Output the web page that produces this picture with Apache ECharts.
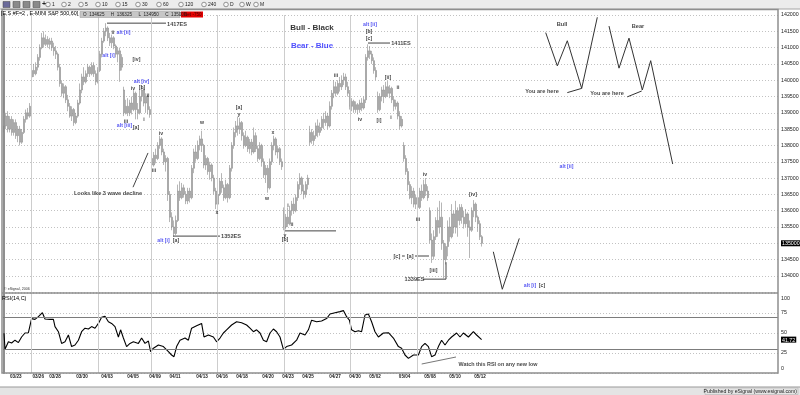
<!DOCTYPE html>
<html><head><meta charset="utf-8">
<script src="https://cdn.jsdelivr.net/npm/echarts@6/dist/echarts.min.js"></script>
<style>html,body{margin:0;padding:0;background:#fff}#c{width:800px;height:395px}</style>
</head><body><div id="c"></div>
<script>
// ---------- DATA ----------
// hourly bars: [open, close, low, high]
const bars = [
[1390,1386,1384,1397],[1386,1389,1385,1390],[1389,1385,1384,1390.5],[1385,1388,1384,1389],[1388,1384,1383,1389],
[1384,1387,1383,1388],[1387,1383,1382,1388],[1383,1385,1381,1386],[1385,1381,1380,1386],[1381,1384,1380.5,1385],
[1384,1388,1383.5,1389],[1388,1390,1387,1391],[1390,1389,1388,1391.5],[1389,1392,1388.5,1393],
[1401,1403,1399.5,1405],[1403,1402,1401,1405],[1402,1404,1401.5,1405.5],[1404,1407,1403,1408],[1407,1410,1406,1411],
[1410,1413,1409.5,1414.5],[1413,1411,1410,1415],[1411,1412.5,1410.5,1414],[1412.5,1411,1410,1413.5],[1411,1412,1409.5,1413],
[1412,1410,1409,1413],[1410,1409,1407.5,1411.5],[1409,1408,1406.5,1410.5],
[1408,1404,1403,1408.5],[1404,1399,1398,1405],[1399,1396,1395,1400],[1396,1398,1394.5,1399],[1398,1394,1393,1398.5],
[1394,1392,1390.5,1395.5],[1392,1389,1388.5,1393],[1389,1391,1387.5,1392],[1391,1387,1386,1391.5],[1387,1389,1386.5,1390],
[1389,1393,1388.5,1394],
[1393,1397,1392.5,1399],[1397,1401,1396,1402],[1401,1399.5,1398.5,1404],[1399.5,1402,1399,1403],[1402,1404,1401,1405],
[1404,1402,1401,1404.5],[1402,1404.5,1401.5,1405.5],[1404.5,1402,1401,1405.5],[1402,1399.5,1398.5,1403],[1399.5,1403,1399,1404],
[1403,1408,1402.5,1409],[1408,1412,1407,1413],[1412,1415,1411.5,1416],[1415,1416,1413.5,1417.5],
[1416,1413,1412,1416.5],[1413,1411.5,1410.5,1414.5],[1411.5,1413,1410,1414],[1413,1410.5,1409.5,1413.5],[1410.5,1408,1407,1411],
[1408,1409,1405.5,1410],[1409,1403,1399.5,1410],[1404,1407,1403,1408],
[1397,1390,1389,1398],[1390,1392,1389.5,1394],[1392,1390,1389,1394.5],[1390,1393,1389,1394],[1393,1391,1389.5,1395],
[1391,1396,1390.5,1397],[1396,1391,1388,1396.5],[1391,1390,1388,1393],[1390,1395,1389.5,1397],[1395,1397,1393.5,1398.5],
[1397,1393,1392,1397.5],[1393,1395,1390,1396],[1395,1391,1389.5,1395.5],[1391,1389.5,1388.5,1392],
[1376,1374,1373,1378.5],[1374,1377,1373.5,1378],[1377,1376,1374.5,1379],[1376,1380,1375.5,1381],[1380,1382,1379,1383],
[1382,1378,1377,1382.5],[1378,1375,1374,1379],[1375,1376,1372,1377],
[1376,1365,1363,1376.5],[1365,1358,1356.5,1366],[1358,1355,1354,1359.5],[1355,1353,1352,1357],[1353,1357,1352.5,1358.5],
[1357,1366,1356.5,1368],[1366,1364,1363,1369],[1364,1367,1363.5,1368.5],[1367,1365,1364,1368],[1365,1363,1362,1366],
[1363,1366,1362,1367],[1366,1364,1362.5,1367],[1364,1373,1363.5,1374],[1373,1378,1371.5,1379],[1378,1376,1375,1380],
[1376,1380,1375.5,1381.5],[1380,1382,1378.5,1383],[1382,1380,1378,1384.5],
[1380,1374,1373,1380.5],[1374,1376,1372.5,1377],[1376,1372,1371,1376.5],[1372,1374,1369.5,1375],[1374,1370,1369,1374.5],
[1370,1366,1365,1371],[1366,1362,1360.5,1367],[1362,1365,1360,1366],[1365,1369,1364.5,1370],[1369,1367,1365.5,1371.5],
[1367,1364,1363,1368],[1364,1368,1363.5,1369.5],[1368,1364,1362.5,1368.5],[1364,1373,1363.5,1374],
[1373,1380,1372,1381],[1380,1384,1379,1385.5],[1384,1386,1382.5,1387.5],[1386,1385,1383,1388.75],[1385,1387,1383.5,1388.5],
[1387,1383,1381.5,1387.5],
[1383,1380,1379,1384],[1380,1382.5,1379.5,1384.5],[1382.5,1379,1378,1383],[1379,1381,1377.5,1382],[1381,1378,1377,1382],
[1378,1383,1377.5,1385.5],[1383,1379,1378,1384],[1379,1376,1375,1380],[1376,1380,1375.5,1381],[1380,1375,1373.5,1380.5],
[1375,1371,1370,1376],[1371,1373,1368.5,1374],[1373,1367,1365.5,1374],
[1367,1375,1366.5,1376],[1375,1380,1374,1381],[1380,1382,1378.5,1383],[1382,1378,1377,1382.5],[1378,1379,1376,1380],
[1379,1375,1374,1379.5],[1375,1373.5,1372.5,1376],
[1360,1355,1354,1361],[1355,1358,1354.25,1359],[1358,1356,1355,1361],[1356,1360,1355.5,1361.5],[1360,1362,1358.5,1363],
[1362,1360,1359,1364],[1360,1364,1359.5,1365],[1364,1368,1363,1369],[1368,1370,1366.5,1371.5],[1370,1366,1365,1370.5],
[1366,1365,1363.5,1368],[1365,1368,1364,1369],[1368,1370,1366.5,1371],
[1381,1384,1380,1386],[1384,1381.5,1380.5,1385],[1381.5,1383,1380,1384.5],[1383,1386,1382,1387],[1386,1384,1382.5,1388],
[1384,1385.5,1383,1387],[1385.5,1388,1384.5,1389],[1388,1387,1385,1390],[1387,1389,1386,1390.5],[1389,1386,1385,1390],
[1386,1392,1385.5,1393.5],[1392,1396,1391,1397],[1396,1398,1394.5,1400],
[1398,1396,1395,1399.5],[1396,1399,1395.5,1400],[1399,1398,1396.5,1401],[1398,1400,1397,1401.5],[1400,1401,1398.5,1402.25],
[1401,1398,1397,1402],
[1398,1396,1395,1399.5],[1396,1392,1391,1397],[1392,1393.5,1390.5,1394.5],[1393.5,1391,1390,1394],[1391,1392.5,1390,1393.5],
[1392.5,1391,1389.5,1393],[1391,1393,1390,1394],[1393,1391.5,1390.5,1394.5],[1391.5,1394,1391,1395],
[1394,1407,1393,1408],[1407,1409,1406,1411],[1409,1408,1406.5,1410.5],[1408,1406,1405,1409],[1406,1403,1402,1407],
[1403,1401,1400,1404],
[1395,1391,1390,1396.5],[1391,1395,1390.5,1396],[1395,1397,1393.5,1398],[1397,1395,1393,1398.5],[1395,1398,1394.5,1399.5],
[1398,1396,1395,1399.75],[1396,1397.5,1394.5,1398.5],[1397.5,1394,1393,1398],[1394,1392,1390.5,1395],[1392,1393,1391,1394],
[1393,1389,1388,1393.5],[1389,1386,1385,1390.5],[1386,1388,1385.5,1389],
[1380,1376,1375,1381],[1376,1372,1371,1377],[1372,1368,1366,1373],[1368,1364,1363.5,1369],[1364,1366,1362,1367.5],
[1366,1362,1361,1367],[1362,1364,1360.5,1365],[1364,1361,1359.25,1365],
[1361,1366,1360.5,1367],[1366,1364,1363,1368],[1364,1368,1363.5,1369.5],[1368,1366,1364.5,1370],[1366,1364,1363,1367.5],
[1360,1351,1350,1361],[1351,1346,1344,1353],[1346,1352,1345,1354],[1352,1357,1351,1358],[1357,1355,1352,1361],
[1355,1358,1353,1363],[1358,1350,1348,1362.5],[1350,1345,1339.25,1351],[1345,1349,1343.5,1350],[1349,1355,1346,1357],
[1355,1352,1350.5,1358],[1352,1359,1351.5,1362],[1359,1355,1353,1360],[1355,1360,1353,1363],[1360,1357,1352,1361],
[1357,1361,1355.5,1362],[1361,1358,1356,1362],[1358,1356,1354.5,1360],[1356,1359,1355,1360.5],[1359,1355,1352,1359.5],
[1355,1354,1345.5,1357],[1354,1360,1353.5,1361],[1360,1362,1358,1363.25],[1362,1358,1356.5,1362.5],[1358,1356,1353.5,1358.5],
[1356,1352,1351,1357],[1352,1350,1349,1352.5]
];
// RSI(14,C): bar position, value
const rsiIdx = [0,0.5,2.2,3.8,5.5,7.2,8.8,10.5,12.2,13.8,15.5,17.2,19.2,20.5,23,24.7,25.5,27.2,28.8,30.5,32.2,33.8,35.5,37.2,38.8,40.5,42.2,43.8,45.5,47.2,48.8,50.5,52.2,53.8,55.5,57.2,58.3,59.7,61.3,63,64.7,67.2,68.8,70.5,72.2,73.3,74.7,77.2,79.7,82.2,83.8,85,86.3,88,90.5,92.2,93.8,96.3,98.8,100,102.2,104.7,106.3,108,109.7,111.3,113.8,116.3,118.8,121.3,123,124.7,126.3,128,129.7,131.3,133,134.7,136.3,138,139.7,141.3,143.8,146.3,148,150.5,152.2,153.8,156.3,158.8,161.3,163,165.5,168,169.7,171.3,172.7,173.8,175.5,177.2,178.8,180.5,182.2,183.8,185.5,187.2,189.7,192.2,194.7,197.2,198.8,200.5,202.2,204.7,207.2,208.8,210.5,212.2,213.8,215.5,217.2,218.8,220.5,222.2,223.8,226.3,228,229.7,232.2,234.7,236.3,238.8];
const rsiVal = [49.6,29.6,39,37.5,41,38,45,50,50.4,68,67,70.4,75.4,67.5,67,67,58,51.6,37,39,47.5,33,35,41,51.6,56,55,58,56,62,69.6,71,64,62,58,45,54,43.7,33,37,39,37,43.7,37,40,26.7,31,35,33,26.7,22.5,20.4,33,41,43.7,41,56,59,62,45,47.5,45,39,43.7,50,54,60,64,62.9,60,56,51.6,54,50,41,39,50,55,51.6,45,29.6,33,35,41,50,47.5,54,66,64,65,68,73.7,75.4,76.7,78,70.4,66,54,51.6,52.9,51.6,72.5,73.7,64,51.6,45,50,50.4,43.7,33,31,22.5,18.3,22.5,22.5,33,37,33,20.4,22.5,33,41,35,41,45,50,45,50,45,51.6,47.5,41.72];
// date labels on the time axis (bar position)
const dateText = ['03/23','03/26','03/28','03/30','04/03','04/05','04/09','04/11','04/13','04/16','04/18','04/20','04/23','04/25','04/27','04/30','05/02','05/04','05/08','05/10','05/12'];
const dateIdx  = [5.9,17.1,25.5,39,51.5,64.5,75.5,85.5,99,109,119,132,142,152,165.5,175.5,185.5,200.3,213,225.5,238];
// weekly separators (bar position)
const weekIdx = [13.5,47,73.5,106.5,140,173,206.5];
// RSI levels
const rsiTicks = [0,25,50,75,100];
const rsiBands = [70,30];
// toolbar interval buttons
const toolbarText = ['1','2','5','10','15','30','60','120','240','D','W','M'];
const toolbarX = [52,68,85,102,122,142,163,185,208,230,246,260];
// wave labels [text, barPos, price]
const waveBlack = [['ii',54.5,1414.6],['[iv]',66.25,1406.2],['[b]',69,1397.9],['iv',64.5,1397.3],['ii',72,1395.2],
 ['iii',61,1387.2],['[a]',66,1385.6],['i',70,1387.8],['iv',78.5,1383.5],['iii',75,1372.2],['[a]',86,1350.7],
 ['w',99,1386.9],['x',106.5,1359.3],['[a]',117.5,1391.5],['y',117.5,1389.6],['w',131.5,1363.6],['x',134.5,1384.1],
 ['[b]',182.5,1414.8],['[c]',182.5,1412.9],['iii',166,1401.3],['iv',178,1387.8],['[ii]',192,1400.7],['ii',197,1397.9],
 ['[i]',187.5,1387.5],['i',193.5,1388.7],['y',140.5,1352.5],['[b]',140.5,1351],['i',142,1361.7],['ii',144,1355.6],
 ['iv',210.5,1371.2],['iii',207,1357.4],['[iii]',214.75,1341.5],['[iv]',234.5,1364.8],['[c]',269,1336.9]];
const waveBlue = [['alt [ii]',59.75,1414.6],['alt [i]',52.25,1407.7],['alt [iv]',68.75,1399.5],['alt [iii]',60.25,1386],
 ['alt [i]',79.75,1350.7],['alt [ii]',183,1417.2],['alt [i]',263,1336.9],['alt [ii]',281.25,1373.4]];
const callouts = [['1417ES',86.5,1417.25],['1352ES',113.5,1352.2],['1411ES',198.5,1411.4],['1339ES',205.25,1339.0],
 ['[c] = [a]',199.75,1346.1],['Looks like 3 wave decline',52,1365.4],['Bull',279,1417.2],['Bear',317,1416.6],
 ['You are here',269,1396.7],['You are here',301.5,1395.8]];
const legendBull = ['Bull - Black',154,1416.2];
const legendBear = ['Bear - Blue',154,1410.5];
// guide lines [barPos, price]
const line1417 = [[51.5,1417.5],[81,1417.5]];
const line1352 = [[84.5,1352.2],[108,1352.2]];
const line1411 = [[182,1411.4],[193,1411.4]];
const line1354 = [[140.5,1353.8],[166,1353.8]];
const lineCA = [[205.5,1346.1],[212.5,1346.1]];
const line1339 = [[209.5,1339.0],[221,1339.0],[221,1344.2]];
const lineLooks = [[64.5,1367.2],[72,1377.7]];
// projections [barPos, price]
const vPath = [[244.65,1347.4],[249.15,1335.9],[257.65,1351.5]];
const bullPath = [[270.85,1414.6],[276.65,1404.4],[281.65,1412.1],[288.85,1397.5],[296.65,1419.3]];
const bullHere = [[281.65,1396.2],[288.85,1397.5]];
const bearPath = [[302.5,1416.6],[307.5,1403.7],[312.5,1412.9],[319.15,1397.0],[323.35,1406.0],[334.35,1374.3]];
const bearHere = [[311.65,1394.9],[318.85,1396.7]];
// RSI note
const rsiNote = ['Watch this RSI on any new low',247,10.6];
const rsiTrend = [[208.85,11.25],[226,20]];
// ---------- CHART ----------
const FONT = 'Arial, "Liberation Sans", sans-serif';
const lastClose = bars[bars.length-1][1];
const lastRsi = rsiVal[rsiVal.length-1];
const candleData = bars.map((b,i)=>[i,b[0],b[1],b[2],b[3]]);
const rsiData = rsiIdx.map((x,i)=>[x,rsiVal[i]]);
function textSeries(list,color,size,weight){
  return {type:'scatter',xAxisIndex:0,yAxisIndex:0,symbolSize:1,silent:true,z:6,
    itemStyle:{color:'rgba(0,0,0,0)'},
    data:list.map(d=>({name:d[0],value:[d[1],d[2]]})),
    label:{show:true,position:'inside',formatter:p=>p.name,color:color,fontSize:size,fontWeight:weight,fontFamily:FONT}};
}
function pathSeries(pts,color,width,g){
  return {type:'line',xAxisIndex:g||0,yAxisIndex:g||0,data:pts,symbol:'none',silent:true,clip:false,z:4,
    lineStyle:{color:color,width:width}};
}
const weekLines = {silent:true,symbol:'none',label:{show:false},animation:false,
  lineStyle:{color:'#cdcdcd',type:'solid',width:1},data:weekIdx.map(v=>({xAxis:v}))};
const toolbarGraphics = [];
[3,13,23,33].forEach((x,k)=>toolbarGraphics.push({type:'rect',shape:{x:x,y:1.5,width:7,height:6},
  style:{fill:k===0?'#6a6a9a':'#8a8a8a',stroke:'#444',lineWidth:0.5},z:2}));
toolbarGraphics.push({type:'text',x:42,y:1,style:{text:'+',fontSize:7,fontWeight:'bold',fontFamily:FONT,fill:'#222'},z:2});
toolbarText.forEach((t,k)=>{
  toolbarGraphics.push({type:'circle',shape:{cx:toolbarX[k]-4,cy:4.5,r:2.3},style:{fill:'#f6f6f6',stroke:'#555',lineWidth:0.6},z:2});
  toolbarGraphics.push({type:'text',x:toolbarX[k],y:2.2,style:{text:t,fontSize:5,fontFamily:FONT,fill:'#222'},z:2});
});
const chart = echarts.init(document.getElementById('c'));
chart.setOption({
  animation:false,
  backgroundColor:'#ffffff',
  grid:[{left:3,right:22,top:15,height:277.2,containLabel:false,outerBoundsMode:'none'},
        {left:3,right:22,top:293,height:80,containLabel:false,outerBoundsMode:'none'}],
  xAxis:[
    {gridIndex:0,type:'value',min:-0.5,max:387,axisLine:{show:false},axisTick:{show:false},axisLabel:{show:false},splitLine:{show:false}},
    {gridIndex:1,type:'value',min:-0.5,max:387,axisLine:{show:false},axisTick:{show:false},splitLine:{show:false},
     axisLabel:{customValues:dateIdx,formatter:v=>{const k=dateIdx.indexOf(v);return k>=0?dateText[k]:'';},
       fontSize:4.6,fontWeight:'bold',fontFamily:FONT,color:'#222',margin:1.5}}
  ],
  yAxis:[
    {gridIndex:0,type:'value',position:'right',min:1335,max:1420,interval:5,
     axisLine:{show:true,lineStyle:{color:'#8f8f8f',width:2}},axisTick:{show:false},
     axisLabel:{fontSize:5.3,fontFamily:FONT,color:'#222',margin:3,
       formatter:v=>{if(v===1335)return '';const s=String(Math.round(v*100));return v===lastClose?'{hl|'+s+'}':s;},
       rich:{hl:{backgroundColor:'#000',color:'#fff',fontSize:5.3,fontFamily:FONT,padding:[1,1,0,1]}}},
     splitLine:{show:true,lineStyle:{color:'#c2c2c2',type:[1,2],width:1}}},
    {gridIndex:1,type:'value',position:'right',min:0,max:100,interval:25,
     axisLine:{show:true,lineStyle:{color:'#8f8f8f',width:2}},axisTick:{show:false},
     axisLabel:{customValues:rsiTicks.concat([lastRsi]),fontSize:5.3,fontFamily:FONT,color:'#222',margin:3,
       formatter:v=>v===lastRsi?'{hl|'+v.toFixed(2)+'}':(v===100?'{top|100}':(v===0?'{bot|0}':String(v))),
       rich:{hl:{backgroundColor:'#000',color:'#fff',fontSize:5.3,fontFamily:FONT,padding:[1,1,0,1]},
             top:{fontSize:5.3,fontFamily:FONT,color:'#222',padding:[12,0,0,0]},
             bot:{fontSize:5.3,fontFamily:FONT,color:'#222',padding:[0,0,8,0]}}},
     splitLine:{show:true,lineStyle:{color:'#c2c2c2',type:[1,2],width:1}}}
  ],
  series:[
    {type:'candlestick',xAxisIndex:0,yAxisIndex:0,data:candleData,barWidth:1.8,z:3,
     itemStyle:{color:'#c4c4c4',color0:'#c4c4c4',borderColor:'#858585',borderColor0:'#858585',borderWidth:0.6},
     markLine:weekLines},
    pathSeries(line1417,'#444',1),pathSeries(line1352,'#444',1),pathSeries(line1411,'#444',1),
    pathSeries(line1354,'#444',1),pathSeries(lineCA,'#444',1),pathSeries(line1339,'#444',1),pathSeries(lineLooks,'#444',1),
    pathSeries(vPath,'#333',1),pathSeries(bullPath,'#333',1),pathSeries(bullHere,'#333',1),
    pathSeries(bearPath,'#333',1),pathSeries(bearHere,'#333',1),
    textSeries(waveBlack,'#111',5.2,'bold'),
    textSeries(waveBlue,'#2a2af0',5.2,'bold'),
    textSeries(callouts,'#111',5.6,'bold'),
    textSeries([legendBull],'#000',8,'bold'),
    textSeries([legendBear],'#1f1fff',8,'bold'),
    {type:'line',xAxisIndex:1,yAxisIndex:1,data:rsiData,symbol:'none',silent:true,z:3,
     lineStyle:{color:'#000',width:1.1},
     markLine:{silent:true,symbol:'none',label:{show:false},animation:false,
       lineStyle:{color:'#7c7c7c',type:'solid',width:1.2},data:rsiBands.map(v=>({yAxis:v})).concat(weekIdx.map(v=>({xAxis:v,lineStyle:{color:'#cdcdcd',width:1}})))}},
    pathSeries(rsiTrend,'#777',1,1),
    {type:'scatter',xAxisIndex:1,yAxisIndex:1,symbolSize:1,silent:true,itemStyle:{color:'rgba(0,0,0,0)'},
     data:[{name:rsiNote[0],value:[rsiNote[1],rsiNote[2]]}],
     label:{show:true,position:'inside',formatter:p=>p.name,color:'#111',fontSize:5.4,fontWeight:'bold',fontFamily:FONT}}
  ],
  graphic:[
    {type:'rect',shape:{x:0,y:0,width:800,height:9},style:{fill:'#ececec'},z:1},
    {type:'line',shape:{x1:0,y1:9,x2:800,y2:9},style:{stroke:'#a6a6a6',lineWidth:1},z:1}
  ].concat(toolbarGraphics).concat([
    {type:'text',x:1,y:11.5,style:{text:'[E.S #F=2 , E-MINI S&P 500,60]',fontSize:5.4,fontFamily:FONT,fill:'#000'},z:20},
    {type:'rect',shape:{x:80,y:11.5,width:100,height:6},style:{fill:'#c6c6c6',stroke:'#999',lineWidth:0.5},z:20},
    {type:'text',x:83,y:12.3,style:{text:'O  134625     H  136325     L  134950     C  135000',fontSize:4.6,fontFamily:FONT,fill:'#222'},z:21},
    {type:'rect',shape:{x:181,y:11.5,width:22,height:6},style:{fill:'#e50000'},z:20},
    {type:'text',x:184,y:12.3,style:{text:'Net -750',fontSize:4.6,fontFamily:FONT,fill:'#400'},z:21},
    {type:'rect',shape:{x:2,y:9.5,width:776,height:363.5},style:{fill:'none',stroke:'#8f8f8f',lineWidth:1.5},z:10},
    {type:'line',shape:{x1:2,y1:293,x2:778,y2:293},style:{stroke:'#8f8f8f',lineWidth:1.5},z:10},
    {type:'text',x:4,y:286.5,style:{text:'© eSignal, 2006',fontSize:3.6,fontFamily:FONT,fill:'#333'},z:11},
    {type:'text',x:2,y:295,style:{text:'RSI(14,C)',fontSize:5.5,fontFamily:FONT,fill:'#000'},z:11},
    {type:'rect',shape:{x:0,y:387,width:800,height:8},style:{fill:'#e4e4e4'},z:1},
    {type:'line',shape:{x1:0,y1:387,x2:800,y2:387},style:{stroke:'#9a9a9a',lineWidth:1.2},z:2},
    {type:'rect',shape:{x:705,y:388,width:93,height:6.5},style:{fill:'none',stroke:'#aaa',lineWidth:0.5},z:2},
    {type:'text',x:797,y:388.8,style:{text:'Published by eSignal (www.esignal.com)',fontSize:5.2,fontFamily:FONT,fill:'#222',align:'right'},z:3}
  ])
});
</script></body></html>
